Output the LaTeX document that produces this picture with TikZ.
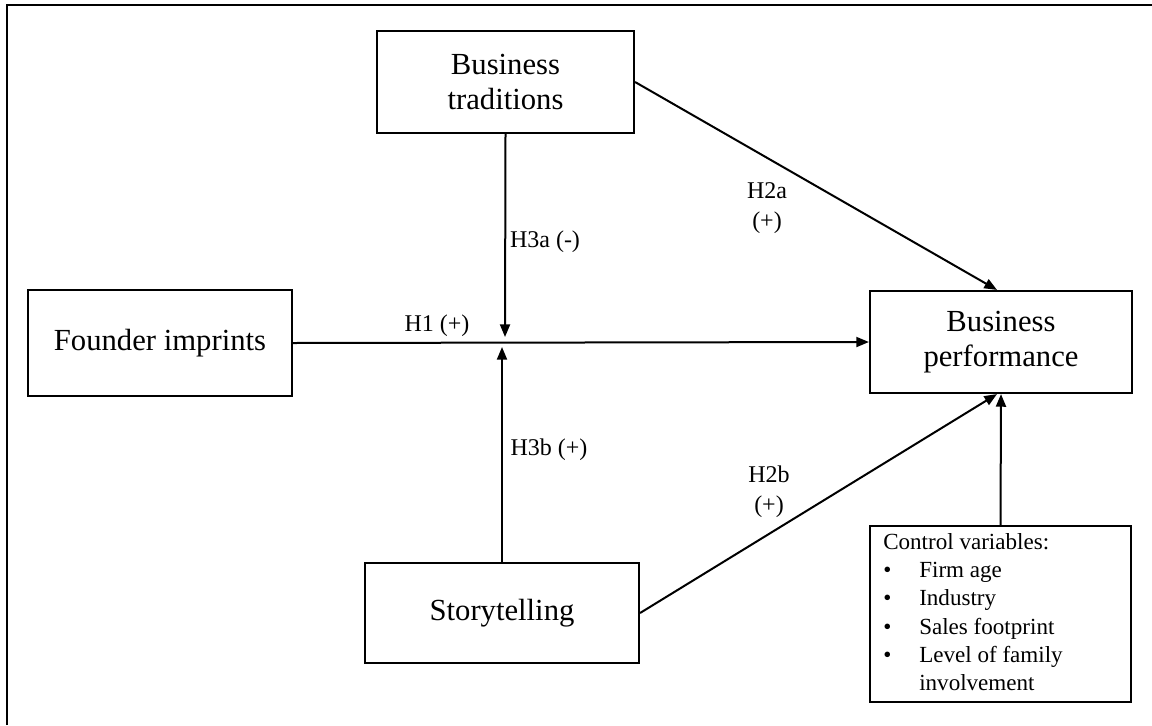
\documentclass[tikz,border=0pt]{standalone}
\usepackage{fontspec}
\setmainfont{Liberation Serif}
\usetikzlibrary{arrows.meta}
\begin{document}
\begin{tikzpicture}[x=0.75pt,y=-0.75pt,
  box/.style={draw,line width=1.6pt,align=center,inner sep=0pt,font=\fontsize{23}{26.5}\selectfont},
  arr/.style={line width=1.5pt,-{Triangle[length=9.5pt,width=7.5pt]}},
  lab/.style={font=\fontsize{18}{22.5}\selectfont,align=center,inner sep=0pt}]
\useasboundingbox (0,0) rectangle (1152,725);
\draw[line width=1.6pt] (7,725) -- (7,5) -- (1152,5);
\node[box,minimum width=192.75pt,minimum height=76.5pt] (BT) at (505.5,82) {Business\\traditions};
\node[box,minimum width=198pt,minimum height=79.5pt] (FI) at (160,343) {Founder imprints};
\node[box,minimum width=196.5pt,minimum height=76.5pt] (BP) at (1001,342) {Business\\performance};
\node[box,minimum width=205.5pt,minimum height=75pt] (ST) at (502,613) {Storytelling};
\node[draw,line width=1.6pt,inner sep=0pt,minimum width=195.75pt,minimum height=132pt] (CV) at (1000.5,614) {};
\node[anchor=north west,inner sep=0pt,font=\fontsize{17.3}{21.2}\selectfont,align=left] (CVt) at (883,533)
  {Control variables:\\
   \makebox[27pt][l]{\textbullet}Firm age\\
   \makebox[27pt][l]{\textbullet}Industry\\
   \makebox[27pt][l]{\textbullet}Sales footprint\\
   \makebox[27pt][l]{\textbullet}Level of family\\
   \hspace*{27pt}involvement};
\coordinate (jt) at (505,337);
\coordinate (jb) at (502,347);
\draw[arr] (FI.east) -- (BP.west);
\draw[arr] (BT.south) -- (jt);
\draw[arr] (ST.north) -- (jb);
\draw[arr] (BT.east) -- ([xshift=-3pt]BP.north);
\draw[arr] (ST.east) -- ([xshift=-3pt]BP.south);
\draw[arr] (CV.north) -- (BP.south);
\node[lab] (h1) at (437,326) {H1 (+)};
\node[lab] (h3a) at (545,242) {H3a (-)};
\node[lab] (h3b) at (549,450) {H3b (+)};
\node[lab] (h2a) at (767,208) {H2a\\(+)};
\node[lab] (h2b) at (769,492) {H2b\\(+)};
\end{tikzpicture}
\end{document}
